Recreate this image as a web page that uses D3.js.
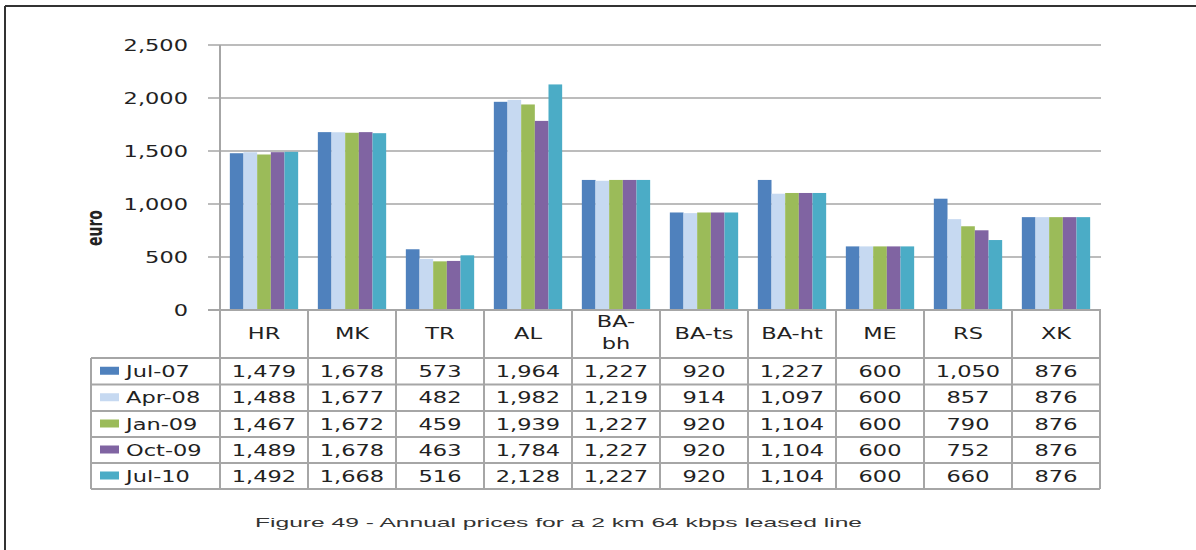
<!DOCTYPE html>
<html><head><meta charset="utf-8">
<script src="https://cdn.jsdelivr.net/npm/d3@7/dist/d3.min.js"></script>
<style>body{margin:0;background:#fff}svg{display:block}text{font-family:"DejaVu Sans",Verdana,sans-serif;fill:#222}</style>
</head><body><svg id="c" width="1196" height="550"></svg>
<script>
const categories = ["HR","MK","TR","AL","BA-bh","BA-ts","BA-ht","ME","RS","XK"];
const seriesNames = ["Jul-07","Apr-08","Jan-09","Oct-09","Jul-10"];
const jul07 = [1479,1678,573,1964,1227,920,1227,600,1050,876];
const apr08 = [1488,1677,482,1982,1219,914,1097,600,857,876];
const jan09 = [1467,1672,459,1939,1227,920,1104,600,790,876];
const oct09 = [1489,1678,463,1784,1227,920,1104,600,752,876];
const jul10 = [1492,1668,516,2128,1227,920,1104,600,660,876];
const yTicks = [0,500,1000,1500,2000,2500];
const colors = ["#4f81bd","#c6d9f1","#9bbb59","#8064a2","#4bacc6"];
const caption = "Figure 49 - Annual prices for a 2 km 64 kbps leased line";
const yLabel = "euro";

const series = [jul07,apr08,jan09,oct09,jul10];
const svg = d3.select("#c");
const SX = 1.5;
const gridCol = "#a6a6a6";

const L = 220, R = 1100, T = 45, B = 310;
const x0 = d3.scaleBand().domain(categories).range([L, R]);
const x1 = d3.scaleBand().domain(seriesNames).range([0, x0.bandwidth()]).paddingOuter(0.72);
const y = d3.scaleLinear().domain([0, 2500]).range([B, T]);

// frame
svg.append("line").attr("x1",5).attr("x2",5).attr("y1",6).attr("y2",550).attr("stroke","#333").attr("stroke-width",2);
svg.append("line").attr("x1",5).attr("x2",1196).attr("y1",6).attr("y2",6).attr("stroke","#333").attr("stroke-width",2);

// gridlines
svg.append("g").selectAll("line").data(yTicks.filter(d=>d>0)).join("line")
  .attr("x1",L).attr("x2",R+1).attr("y1",d=>y(d)).attr("y2",d=>y(d))
  .attr("stroke",gridCol).attr("stroke-width",1.5);

// bars
const gb = svg.append("g");
categories.forEach((c,i)=>{
  seriesNames.forEach((s,j)=>{
    const v = series[j][i];
    gb.append("rect").attr("x",x0(c)+x1(s)).attr("width",x1.bandwidth())
      .attr("y",y(v)).attr("height",y(0)-y(v)).attr("fill",colors[j]);
  });
});

// y axis
const ya = svg.append("g");
ya.append("line").attr("x1",L).attr("x2",L).attr("y1",T).attr("y2",489).attr("stroke",gridCol).attr("stroke-width",2);
ya.selectAll("line.t").data(yTicks).join("line").attr("class","t")
  .attr("x1",208).attr("x2",L).attr("y1",d=>y(d)).attr("y2",d=>y(d)).attr("stroke",gridCol).attr("stroke-width",1.5);
ya.selectAll("text").data(yTicks).join("text")
  .attr("transform",d=>`translate(188,${y(d)+5.5}) scale(${SX},1)`)
  .attr("text-anchor","end").attr("font-size",15)
  .text(d=>d3.format(",")(d));
svg.append("text").attr("transform",`translate(102,228) scale(${SX},1) rotate(-90)`)
  .attr("text-anchor","middle").attr("font-size",14).attr("font-weight","bold").text(yLabel);

// baseline
svg.append("line").attr("x1",208).attr("x2",R+1).attr("y1",B).attr("y2",B).attr("stroke",gridCol).attr("stroke-width",2);

// table
const rowY = [358,384.5,411,437,463,489];
const tLeft = 91;
const tg = svg.append("g");
rowY.forEach(ry=>{
  tg.append("line").attr("x1",tLeft).attr("x2",R).attr("y1",ry).attr("y2",ry).attr("stroke",gridCol).attr("stroke-width",2);
});
tg.append("line").attr("x1",tLeft).attr("x2",tLeft).attr("y1",358).attr("y2",489).attr("stroke",gridCol).attr("stroke-width",2);
categories.forEach((c,i)=>{
  const xr = x0(c)+x0.bandwidth();
  tg.append("line").attr("x1",xr).attr("x2",xr).attr("y1",B).attr("y2",489).attr("stroke",gridCol).attr("stroke-width",2);
  const cx = x0(c)+x0.bandwidth()/2;
  const parts = c==="BA-bh" ? ["BA-","bh"] : [c];
  parts.forEach((p,k)=>{
    const yy = parts.length===1 ? 339 : 327+k*22;
    tg.append("text").attr("transform",`translate(${cx},${yy}) scale(${SX},1)`)
      .attr("text-anchor","middle").attr("font-size",15).text(p);
  });
  series.forEach((arr,j)=>{
    const yy = (rowY[j]+rowY[j+1])/2 + 5.5;
    tg.append("text").attr("transform",`translate(${cx},${yy}) scale(${SX},1)`)
      .attr("text-anchor","middle").attr("font-size",15).text(d3.format(",")(arr[i]));
  });
});
seriesNames.forEach((s,j)=>{
  const cy = (rowY[j]+rowY[j+1])/2;
  tg.append("rect").attr("x",100).attr("y",cy-4.5).attr("width",19).attr("height",8).attr("fill",colors[j]);
  tg.append("text").attr("transform",`translate(126,${cy+5.5}) scale(${SX},1)`)
    .attr("font-size",15).text(s);
});

// caption
svg.append("text").attr("x",255).attr("y",527).attr("font-size",13)
  .style("font-family","'Liberation Sans',Arial,sans-serif").style("fill","#333")
  .attr("textLength",607).attr("lengthAdjust","spacingAndGlyphs").text(caption);
</script></body></html>
